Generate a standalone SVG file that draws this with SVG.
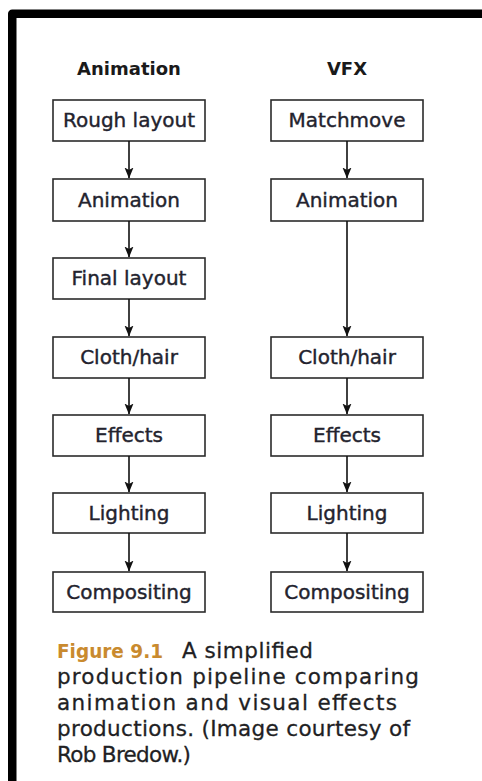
<svg xmlns="http://www.w3.org/2000/svg" width="482" height="781" viewBox="0 0 482 781">
<style>
.frame{fill:none;stroke:#000;stroke-width:8.5;stroke-linejoin:round}
.box{fill:#fff;stroke:#2b2b2b;stroke-width:1.6}
.lbl{font-family:"DejaVu Sans",sans-serif;font-size:20px;fill:#23232e;stroke:#23232e;stroke-width:0.4;text-anchor:middle}
.hdr{font-family:"DejaVu Sans",sans-serif;font-weight:bold;font-size:18px;fill:#1a1a1a;text-anchor:middle}
.cap{font-family:"DejaVu Sans",sans-serif;font-size:21.5px;fill:#1f1f24;stroke:#1f1f24;stroke-width:0.3}
.fig{font-weight:bold;fill:#c98a2e;stroke:none;font-size:19.5px}
.conn line{stroke:#111;stroke-width:1.6;marker-end:url(#ah)}
</style>
<defs>
<marker id="ah" markerUnits="userSpaceOnUse" markerWidth="11" markerHeight="10" viewBox="0 0 11 10" refX="10.5" refY="5" orient="auto">
<path d="M0,0.5 L11,5 L0,9.5 L2.5,5 Z" fill="#111"/>
</marker>
</defs>
<rect x="0" y="0" width="482" height="781" fill="#fff"/>
<path class="frame" d="M12.25,781 V13.75 H482"/>

<text class="hdr" x="129" y="75">Animation</text>
<text class="hdr" x="347" y="75">VFX</text>

<g id="a-rough"><rect class="box" x="53" y="100" width="152" height="41"/><text class="lbl" x="129" y="127">Rough layout</text></g>
<g id="a-anim"><rect class="box" x="53" y="179" width="152" height="42"/><text class="lbl" x="129" y="206.5">Animation</text></g>
<g id="a-final"><rect class="box" x="53" y="258" width="152" height="41"/><text class="lbl" x="129" y="285">Final layout</text></g>
<g id="a-cloth"><rect class="box" x="53" y="337" width="152" height="41"/><text class="lbl" x="129" y="364">Cloth/hair</text></g>
<g id="a-effects"><rect class="box" x="53" y="415" width="152" height="41"/><text class="lbl" x="129" y="442">Effects</text></g>
<g id="a-light"><rect class="box" x="53" y="493" width="152" height="40"/><text class="lbl" x="129" y="519.5">Lighting</text></g>
<g id="a-comp"><rect class="box" x="53" y="572" width="152" height="40"/><text class="lbl" x="129" y="598.5">Compositing</text></g>

<g id="v-match"><rect class="box" x="271" y="100" width="152" height="41"/><text class="lbl" x="347" y="127">Matchmove</text></g>
<g id="v-anim"><rect class="box" x="271" y="179" width="152" height="42"/><text class="lbl" x="347" y="206.5">Animation</text></g>
<g id="v-cloth"><rect class="box" x="271" y="337" width="152" height="41"/><text class="lbl" x="347" y="364">Cloth/hair</text></g>
<g id="v-effects"><rect class="box" x="271" y="415" width="152" height="41"/><text class="lbl" x="347" y="442">Effects</text></g>
<g id="v-light"><rect class="box" x="271" y="493" width="152" height="40"/><text class="lbl" x="347" y="519.5">Lighting</text></g>
<g id="v-comp"><rect class="box" x="271" y="572" width="152" height="40"/><text class="lbl" x="347" y="598.5">Compositing</text></g>

<g class="conn" id="connectors">
<line x1="129" y1="141" x2="129" y2="178"/>
<line x1="129" y1="221" x2="129" y2="257"/>
<line x1="129" y1="299" x2="129" y2="336"/>
<line x1="129" y1="378" x2="129" y2="414"/>
<line x1="129" y1="456" x2="129" y2="492"/>
<line x1="129" y1="533" x2="129" y2="571"/>
<line x1="347" y1="141" x2="347" y2="178"/>
<line x1="347" y1="221" x2="347" y2="336"/>
<line x1="347" y1="378" x2="347" y2="414"/>
<line x1="347" y1="456" x2="347" y2="492"/>
<line x1="347" y1="533" x2="347" y2="571"/>
</g>

<g id="caption" class="cap">
<text y="658"><tspan class="fig" x="57" textLength="106" lengthAdjust="spacingAndGlyphs">Figure 9.1</tspan><tspan x="182" textLength="131" lengthAdjust="spacing">A simplified</tspan></text>
<text x="57" y="684" textLength="362" lengthAdjust="spacing">production pipeline comparing</text>
<text x="57" y="710" textLength="340" lengthAdjust="spacing">animation and visual effects</text>
<text x="57" y="736" textLength="353" lengthAdjust="spacing">productions. (Image courtesy of</text>
<text x="57" y="762" textLength="134" lengthAdjust="spacing">Rob Bredow.)</text>
</g>
</svg>
